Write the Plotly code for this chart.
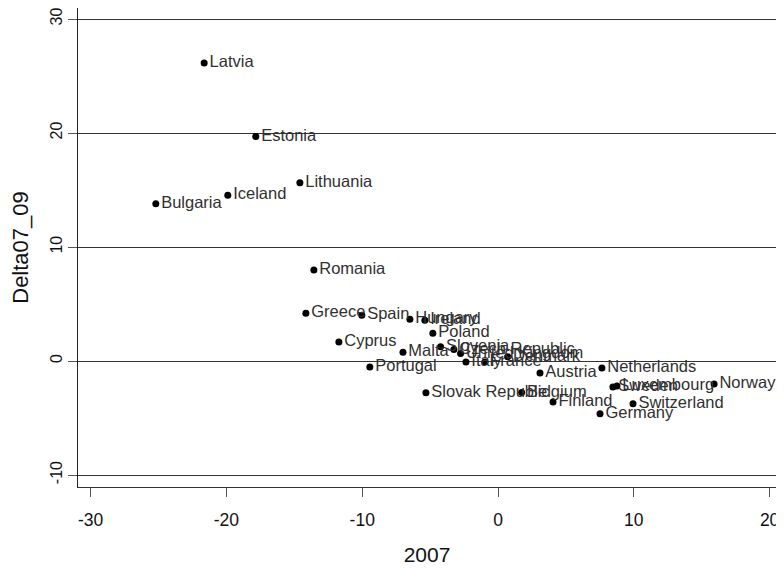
import plotly.graph_objects as go

countries = ["Latvia", "Estonia", "Lithuania", "Iceland", "Bulgaria", "Romania",
             "Greece", "Spain", "Hungary", "Ireland", "Poland", "Cyprus", "Malta",
             "Slovenia", "Czech Republic", "United Kingdom", "Denmark", "Italy",
             "France", "Portugal", "Austria", "Netherlands", "Sweden", "Luxembourg",
             "Norway", "Slovak Republic", "Belgium", "Finland", "Switzerland", "Germany"]
x2007 = [-21.64, -17.84, -14.59, -19.90, -25.20, -13.56,
         -14.15, -10.03, -6.49, -5.39, -4.80, -11.72, -7.00,
         -4.23, -3.25, -2.76, 0.71, -2.36,
         -0.97, -9.44, 3.09, 7.65, 8.46, 8.76,
         15.91, -5.31, 1.74, 4.05, 9.94, 7.51]
delta07_09 = [26.14, 19.69, 15.63, 14.55, 13.80, 7.99,
              4.18, 4.01, 3.66, 3.57, 2.44, 1.66, 0.78,
              1.25, 1.02, 0.67, 0.37, -0.09,
              -0.09, -0.52, -1.05, -0.61, -2.27, -2.18,
              -2.01, -2.79, -2.76, -3.60, -3.75, -4.62]
x_ticks = [-30, -20, -10, 0, 10, 20]
y_ticks = [-10, 0, 10, 20, 30]

FONT = "Liberation Sans, Arial, sans-serif"

fig = go.Figure(go.Scatter(
    x=x2007, y=delta07_09, text=countries, mode="markers+text",
    textposition="middle right",
    marker=dict(color="black", size=7),
    textfont=dict(family=FONT, size=16.5, color="#303030"),
    cliponaxis=False,
))

# page body has an 8px margin, so the figure is sized to fit the window
fig.update_layout(
    width=776, height=570,
    margin=dict(l=70, r=8, t=0, b=91),
    paper_bgcolor="white", plot_bgcolor="white",
    showlegend=False,
    font=dict(family=FONT, color="#111"),
)
fig.update_xaxes(
    range=[-30.93, 20.47], tickvals=x_ticks, ticktext=[str(v) for v in x_ticks],
    showgrid=False, zeroline=False, automargin=False,
    showline=True, linecolor="#333", linewidth=1,
    ticks="outside", ticklen=9, tickcolor="#555", tickwidth=1,
    ticklabelstandoff=8, ticklabeloverflow="allow",
    tickfont=dict(size=17.5, color="#111"),
    title=dict(text="2007", font=dict(size=21, color="#111"), standoff=18),
)
fig.update_yaxes(
    range=[-11.05, 30.965], tickvals=y_ticks, ticktext=[str(v) for v in y_ticks],
    showgrid=True, gridcolor="#333", gridwidth=1,
    zeroline=False, automargin=False,
    showline=True, linecolor="#222", linewidth=1,
    ticks="outside", ticklen=9, tickcolor="#555", tickwidth=1,
    tickangle=-90, ticklabelstandoff=0, ticklabeloverflow="allow",
    tickfont=dict(size=16, color="#111"),
    title=dict(text="Delta07_09", font=dict(size=22, color="#111"), standoff=24),
)

fig.write_html("out.html")
